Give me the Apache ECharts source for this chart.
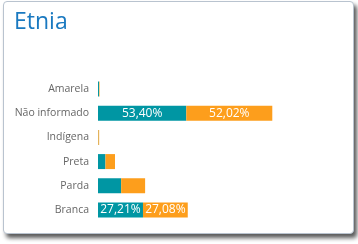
<!DOCTYPE html>
<html>
<head>
<meta charset="utf-8">
<script src="https://cdn.jsdelivr.net/npm/echarts@6/dist/echarts.min.js"></script>
<style>
html,body{margin:0;padding:0;background:#fff;width:358px;height:244px;overflow:hidden;}
#card{position:absolute;left:3px;top:1px;width:349px;height:231px;border:1px solid #b9c3cf;border-radius:4px;box-shadow:3px 4px 4px rgba(0,0,0,0.65);background:#fff;}
#chart{position:absolute;left:0;top:0;width:358px;height:244px;}
</style>
</head>
<body>
<div id="card"></div>
<div id="chart"></div>
<script>
var categories = ['Amarela', 'Não informado', 'Indígena', 'Preta', 'Parda', 'Branca'];
var series1 = [0.6, 53.40, 0.2, 4.5, 14.0, 27.21];
var series2 = [0.3, 52.02, 0.5, 5.8, 14.5, 27.08];
var labeledCategories = ['Não informado', 'Branca'];

function makeData(values) {
  return values.map(function (v, i) {
    return {
      value: v,
      label: { show: labeledCategories.indexOf(categories[i]) >= 0 }
    };
  });
}
function fmt(p) {
  return p.value.toFixed(2).replace('.', ',') + '%';
}
var chart = echarts.init(document.getElementById('chart'), null, { renderer: 'canvas' });
chart.setOption({
  animation: false,
  title: {
    text: 'Etnia',
    left: 9,
    top: 6,
    textStyle: { fontFamily: 'Open Sans', fontWeight: 'normal', fontSize: 23, color: '#1a79c0' }
  },
  grid: { left: 98, right: 12, top: 77, bottom: 22, containLabel: false },
  xAxis: {
    type: 'value', min: 0, max: 150,
    show: false
  },
  yAxis: {
    type: 'category',
    inverse: true,
    data: categories,
    axisLine: { show: false },
    axisTick: { show: false },
    axisLabel: { margin: 9, color: '#666666', fontSize: 10.5, fontFamily: 'Open Sans' }
  },
  series: [
    {
      type: 'bar', stack: 'total', barWidth: 15,
      data: makeData(series1),
      itemStyle: { color: '#0096a3' },
      label: { position: 'inside', color: '#fff', fontSize: 12, fontFamily: 'Open Sans', formatter: fmt }
    },
    {
      type: 'bar', stack: 'total', barWidth: 15,
      data: makeData(series2),
      itemStyle: { color: '#fd9e1c' },
      label: { position: 'inside', color: '#fff', fontSize: 12, fontFamily: 'Open Sans', formatter: fmt }
    }
  ]
});
</script>
</body>
</html>
